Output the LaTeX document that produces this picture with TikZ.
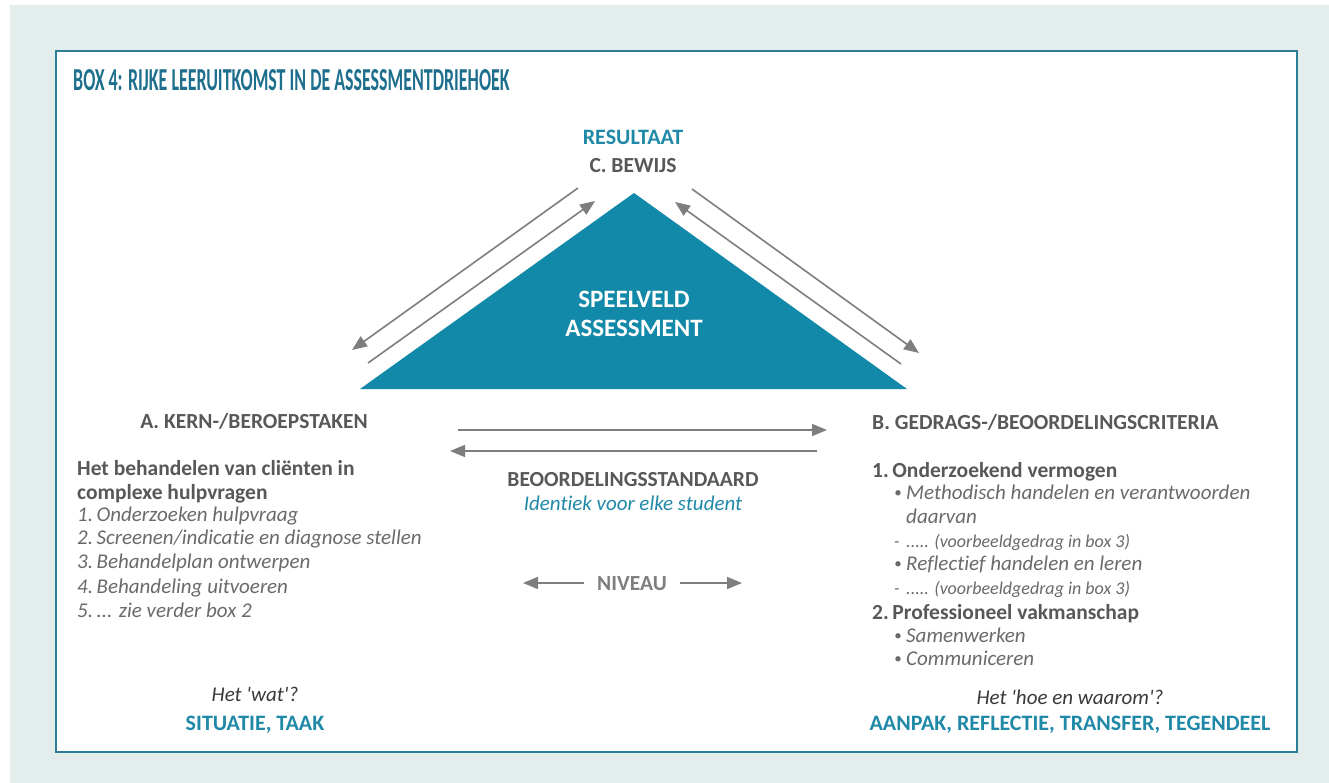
\documentclass[tikz,border=0pt]{standalone}
\usepackage{fontspec}
\setmainfont{Carlito}[Ligatures=NoCommon]
\newfontfamily\condfont[FakeStretch=0.56]{Carlito}
\usetikzlibrary{positioning,arrows.meta}

\definecolor{pagebg}{HTML}{E2EDEC}
\definecolor{boxline}{HTML}{2C7D97}
\definecolor{titleteal}{HTML}{1E6F8D}
\definecolor{teal}{HTML}{2089A8}
\definecolor{trifill}{HTML}{1289A8}
\definecolor{headgrey}{HTML}{58585A}
\definecolor{listgrey}{HTML}{6A6A6C}
\definecolor{darkgrey}{HTML}{3A3A3A}
\definecolor{arrowgrey}{HTML}{7E7E7E}

\begin{document}
\begin{tikzpicture}[x=1pt, y=-1pt, inner sep=0pt, node distance=0pt,
	arr/.style={-{Triangle[length=15pt,width=12pt]}, line width=1.6pt, draw=arrowgrey},
	title/.style={font=\condfont\bfseries\fontsize{32}{36}\selectfont, text=titleteal, text height=20.5pt, text depth=0pt},
	head/.style={font=\bfseries\fontsize{21.5}{26}\selectfont, text=headgrey, text height=14pt, text depth=0pt},
	tealhead/.style={font=\bfseries\fontsize{22}{26}\selectfont, text=teal, text height=14pt, text depth=0pt},
	body/.style={font=\bfseries\fontsize{21.5}{26}\selectfont, text=headgrey, text height=14pt, text depth=0pt, anchor=west},
	item/.style={font=\itshape\fontsize{21}{25}\selectfont, text=listgrey, text height=13.5pt, text depth=0pt, anchor=west},
	small/.style={font=\itshape\fontsize{18}{22}\selectfont, text=listgrey, text height=11.5pt, text depth=0pt, anchor=west},
	dot/.style={font=\fontsize{15}{18}\selectfont, text=listgrey, anchor=center},
	ask/.style={font=\itshape\fontsize{21}{25}\selectfont, text=darkgrey, text height=13.5pt, text depth=0pt}]

	\useasboundingbox (0,0) rectangle (1329,783);
	\fill[white] (0,0) rectangle (1329,783);
	\fill[pagebg] (10,5) rectangle (1329,783);
	\draw[boxline, line width=1.5pt, fill=white] (56,51) rectangle (1297,752);

	\node[title, anchor=west] (box_title) at (73,80) {BOX 4: RIJKE LEERUITKOMST IN DE ASSESSMENTDRIEHOEK};

	%% Top corner
	\node[tealhead] (resultaat) at (633,138) {RESULTAAT};
	\node[head] (bewijs) at (633,166) {C. BEWIJS};

	%% Triangle
	\coordinate (tri_top) at (634,193);
	\coordinate (tri_left) at (360,389);
	\coordinate (tri_right) at (907,389);
	\fill[trifill] (tri_top) -- (tri_left) -- (tri_right) -- cycle;
	\node[tealhead, text=white, font=\bfseries\fontsize{25}{29}\selectfont, text height=16pt] (speelveld) at (634,300) {SPEELVELD};
	\node[tealhead, text=white, font=\bfseries\fontsize{25}{29}\selectfont, text height=16pt] (assessment) at (634,328) {ASSESSMENT};

	\coordinate (lo_s) at (578,188);
	\coordinate (lo_e) at (352,350);
	\coordinate (li_s) at (368,363);
	\coordinate (li_e) at (595,201);
	\coordinate (ro_s) at (692,189);
	\coordinate (ro_e) at (919,353);
	\coordinate (ri_s) at (901,364);
	\coordinate (ri_e) at (675,202);
	\draw[arr] (lo_s) -- (lo_e);
	\draw[arr] (li_s) -- (li_e);
	\draw[arr] (ro_s) -- (ro_e);
	\draw[arr] (ri_s) -- (ri_e);

	%% Middle
	\coordinate (ht_s) at (458,430);
	\coordinate (ht_e) at (827,430);
	\coordinate (hb_s) at (817,451);
	\coordinate (hb_e) at (450,451);
	\draw[arr] (ht_s) -- (ht_e);
	\draw[arr] (hb_s) -- (hb_e);

	\node[head] (standaard) at (633,479) {BEOORDELINGSSTANDAARD};
	\node[item, anchor=center, text=teal] (identiek) at (633,504) {Identiek voor elke student};

	\node[head, text=arrowgrey] (niveau) at (632,583) {NIVEAU};
	\coordinate (niv_l) at (523,583);
	\coordinate (niv_r) at (742,583);
	\draw[arr] ([xshift=-13pt]niveau.west) -- (niv_l);
	\draw[arr] ([xshift=13pt]niveau.east) -- (niv_r);

	%% Left: A
	\node[head] (kern) at (254,421) {A. KERN-/BEROEPSTAKEN};
	\node[body] (a_1) at (77,468) {Het behandelen van cliënten in};
	\node[body] (a_2) at (77,492) {complexe hulpvragen};
	\node[item] (a_3) at (77,515) {1.\,Onderzoeken hulpvraag};
	\node[item] (a_4) at (77,538) {2.\,Screenen/indicatie en diagnose stellen};
	\node[item] (a_5) at (77,562) {3.\,Behandelplan ontwerpen};
	\node[item] (a_6) at (77,587) {4.\,Behandeling uitvoeren};
	\node[item] (a_7) at (77,611) {5.\,... zie verder box 2};
	\node[ask] (wat) at (255,695) {Het \textquotesingle wat\textquotesingle?};
	\node[tealhead] (situatie) at (255,723) {SITUATIE, TAAK};

	%% Right: B
	\node[head, anchor=west] (gedrag) at (872,422) {B. GEDRAGS-/BEOORDELINGSCRITERIA};
	\node[body] (b_1) at (872,470) {1.\,Onderzoekend vermogen};
	\node[dot] (b_1m) at (898,494) {•};
	\node[item] (b_2) at (906,493) {Methodisch handelen en verantwoorden};
	\node[item] (b_3) at (906,517) {daarvan};
	\node[small] (b_4m) at (894,542) {-};
	\node[small] (b_4) at (906,542) {..... (voorbeeldgedrag in box 3)};
	\node[dot] (b_5m) at (898,565) {•};
	\node[item] (b_5) at (906,564) {Reflectief handelen en leren};
	\node[small] (b_6m) at (894,589) {-};
	\node[small] (b_6) at (906,589) {..... (voorbeeldgedrag in box 3)};
	\node[body] (b_7) at (872,612) {2.\,Professioneel vakmanschap};
	\node[dot] (b_8m) at (898,637) {•};
	\node[item] (b_8) at (906,636) {Samenwerken};
	\node[dot] (b_9m) at (898,660) {•};
	\node[item] (b_9) at (906,659) {Communiceren};
	\node[ask] (waarom) at (1070,698) {Het \textquotesingle hoe en waarom\textquotesingle?};
	\node[tealhead] (aanpak) at (1070,723) {AANPAK, REFLECTIE, TRANSFER, TEGENDEEL};

\end{tikzpicture}
\end{document}
